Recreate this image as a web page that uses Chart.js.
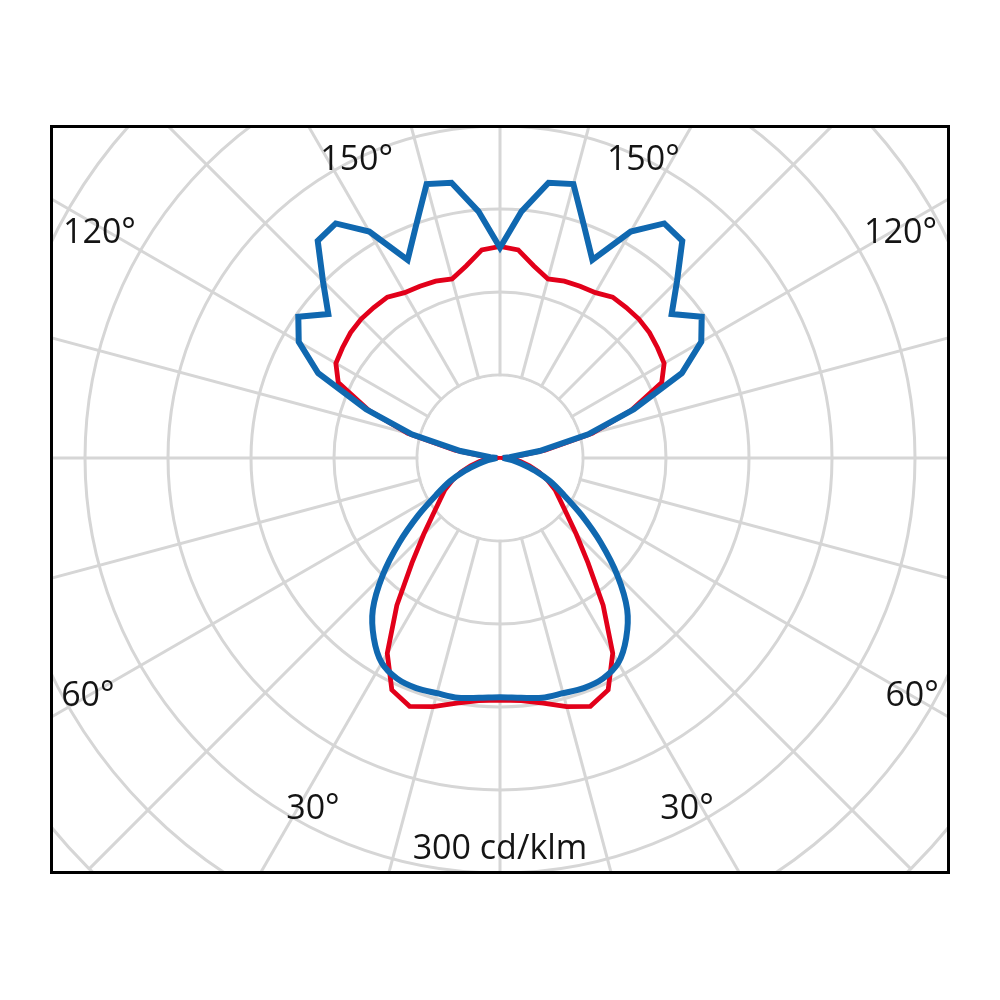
<!DOCTYPE html>
<html>
<head>
<meta charset="utf-8">
<script src="https://cdn.jsdelivr.net/npm/chart.js@4.4.1/dist/chart.umd.min.js"></script>
<style>
  html, body { margin: 0; padding: 0; background: #fff; }
  body { width: 1000px; height: 1000px; position: relative; overflow: hidden; }
  #frame { position: absolute; left: 50px; top: 125px; width: 894px; height: 743px;
           border: 3px solid #000; overflow: hidden; background: #fff; }
  #chart { position: absolute; left: -134px; top: -251px; }
</style>
</head>
<body>
<div id="frame"><canvas id="chart" width="1162" height="1162"></canvas></div>
<script>
// angles of one half (0° = down, 180° = up), step 5°
const halfAngles = [0, 5, 10, 15, 20, 25, 30, 35, 40, 45, 50, 55, 60, 65, 70, 75, 80, 85, 90,
                    95, 100, 105, 110, 115, 120, 125, 130, 135, 140, 145, 150, 155, 160, 165, 170, 175, 180];

// cd/klm, blue curve
const blueHalf = [173, 174, 176, 176, 177, 176, 171, 159, 143, 120, 95, 72, 53, 40, 27, 16, 9, 4, 2,
                  7, 29, 66, 103, 145, 168, 178, 162, 181, 205, 207, 189, 158, 178, 205, 202, 179, 152];

// cd/klm, red curve
const redHalf = [175, 176, 180, 186, 191, 185, 163, 130, 99, 78, 63, 53, 46, 38, 30, 22, 15, 8, 3,
                 10, 33, 69, 101, 129, 137, 139, 141, 142, 142, 142, 138, 137, 136, 134, 141, 151, 153];

// scale
const ringStep = 60;
const ringMax = 420;

// texts
const angleTexts = ['150°', '120°', '60°', '30°'];
const unitText = '300 cd/klm';

// full circle (left half then mirrored right half)
function fullCircle(half) {
    const out = half.slice();
    for (let i = half.length - 2; i >= 1; i--) out.push(half[i]);
    return out;
}
const labels = [];
for (let a = 0; a < 360; a += 5) labels.push(a + '°');
const blueData = fullCircle(blueHalf);
const redData = fullCircle(redHalf);

// blue: smooth lower lobe, sharp upper lobe
const blueLower = blueData.map((v, i) => (labels[i] && (i <= 18 || i >= 54)) ? v : null);
const blueUpper = blueData.map((v, i) => (i >= 18 && i <= 54) ? v : null);

const gridColor = '#d6d6d6';

function polarPoint(scale, deg, value) {
    const d = scale.getDistanceFromCenterForValue(value);
    const a = deg * Math.PI / 180;
    return { x: scale.xCenter - d * Math.sin(a), y: scale.yCenter + d * Math.cos(a) };
}

// inner ring is empty
const innerDisc = {
    id: 'innerDisc',
    beforeDatasetsDraw(chart) {
        const s = chart.scales.r;
        const c = chart.ctx;
        c.save();
        c.fillStyle = '#fff';
        c.beginPath();
        c.arc(s.xCenter, s.yCenter, s.getDistanceFromCenterForValue(ringStep) - 1.5, 0, Math.PI * 2);
        c.fill();
        c.restore();
    }
};

// degree texts and unit
const textLabels = {
    id: 'textLabels',
    afterDraw(chart) {
        const s = chart.scales.r;
        const c = chart.ctx;
        c.save();
        c.fillStyle = '#141414';
        c.font = '34px "Open Sans"';
        c.textAlign = 'center';
        c.textBaseline = 'middle';
        const spots = [[154.3, 239], [119.3, 332], [60, 344], [28, 288]];
        angleTexts.forEach((t, i) => {
            const [deg, v] = spots[i];
            let p = polarPoint(s, deg, v);
            c.fillText(t, p.x, p.y);
            p = polarPoint(s, -deg, v);
            c.fillText(t, p.x, p.y);
        });
        const p = polarPoint(s, 0, 283);
        c.fillText(unitText, p.x, p.y);
        c.restore();
    }
};

new Chart(document.getElementById('chart'), {
    type: 'radar',
    data: {
        labels: labels,
        datasets: [
            { label: 'blue', data: blueLower, borderColor: '#1068b0', borderWidth: 6, tension: 0.3 },
            { label: 'blue upper', data: blueUpper, borderColor: '#1068b0', borderWidth: 6, tension: 0 },
            { label: 'red', data: redData, borderColor: '#e2001a', borderWidth: 4.8, tension: 0 }
        ]
    },
    options: {
        responsive: false,
        animation: false,
        events: [],
        devicePixelRatio: 1,
        plugins: { legend: { display: false }, tooltip: { enabled: false } },
        elements: {
            point: { radius: 0 },
            line: { fill: false, spanGaps: false }
        },
        scales: {
            r: {
                min: 0,
                max: ringMax,
                startAngle: 180,
                ticks: { display: false, stepSize: ringStep },
                grid: { circular: true, color: gridColor, lineWidth: 3 },
                angleLines: {
                    display: true,
                    color: gridColor,
                    lineWidth: ctx => ctx.index % 3 === 0 ? 3 : 0
                },
                pointLabels: { display: false }
            }
        }
    },
    plugins: [innerDisc, textLabels]
});
</script>
</body>
</html>
